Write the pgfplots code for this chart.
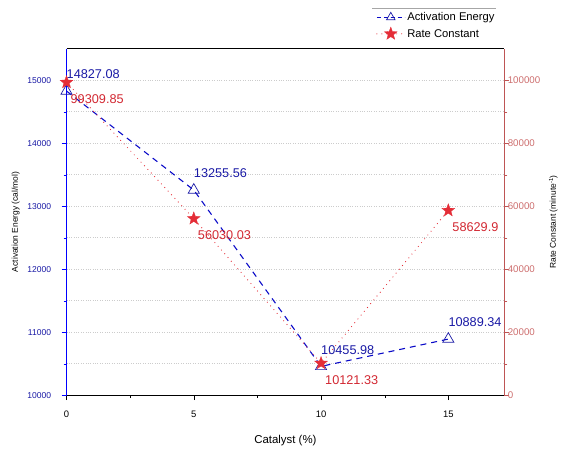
\documentclass[border=0pt]{standalone}
\usepackage{pgfplots}
\pgfplotsset{compat=1.18}
\usepackage{fontspec}
\setmainfont{Liberation Sans}

\definecolor{aeblue}{RGB}{25,25,165}
\definecolor{aeline}{RGB}{10,10,200}
\definecolor{axblue}{RGB}{0,0,255}
\definecolor{rcred}{RGB}{228,45,55}
\definecolor{lblred}{RGB}{210,40,50}
\definecolor{axred}{RGB}{190,85,85}
\definecolor{tickred}{RGB}{205,110,110}

% filled five-pointed star
\pgfdeclareplotmark{fstar}{%
  \pgfpathmoveto{\pgfpointpolar{90}{\pgfplotmarksize}}%
  \pgfpathlineto{\pgfpointpolar{126}{0.42\pgfplotmarksize}}%
  \pgfpathlineto{\pgfpointpolar{162}{\pgfplotmarksize}}%
  \pgfpathlineto{\pgfpointpolar{198}{0.42\pgfplotmarksize}}%
  \pgfpathlineto{\pgfpointpolar{234}{\pgfplotmarksize}}%
  \pgfpathlineto{\pgfpointpolar{270}{0.42\pgfplotmarksize}}%
  \pgfpathlineto{\pgfpointpolar{306}{\pgfplotmarksize}}%
  \pgfpathlineto{\pgfpointpolar{342}{0.42\pgfplotmarksize}}%
  \pgfpathlineto{\pgfpointpolar{18}{\pgfplotmarksize}}%
  \pgfpathlineto{\pgfpointpolar{54}{0.42\pgfplotmarksize}}%
  \pgfpathclose
  \pgfusepathqfillstroke
}

\pgfplotsset{
  common/.style={
    scale only axis, width=441pt, height=349pt,
    xmin=0, xmax=17.2,
    tick align=outside,
    /pgf/number format/fixed,
    /pgf/number format/assume math mode=true,
    /pgf/number format/1000 sep={},
  },
}

\begin{document}
\begin{tikzpicture}
\begin{axis}[common,
  ymin=10000, ymax=15500,
  axis x line*=bottom, axis y line*=left,
  xtick={0,5,10,15}, minor x tick num=1,
  ytick={10000,11000,...,15000}, minor y tick num=1,
  x axis line style={black, thick},
  y axis line style={axblue, thick},
  ytick style={axblue}, xtick style={black},
  major tick length=5pt, minor tick length=3pt,
  scaled y ticks=false,
  xticklabel style={font=\fontsize{9.5}{10}\selectfont, yshift=-7pt},
  yticklabel style={font=\fontsize{8.6}{10}\selectfont, color=aeblue, xshift=-7pt},
  ymajorgrids, yminorgrids,
  major grid style={dotted, gray!40},
  minor grid style={dotted, gray!40},
  xlabel={Catalyst (\%)},
  xlabel style={font=\fontsize{11.5}{13}\selectfont, yshift=-11pt},
  ylabel={Activation Energy (cal/mol)},
  ylabel style={font=\fontsize{8.5}{10}\selectfont, yshift=1pt},
]
\addplot[aeline, line width=1.1pt, dash pattern=on 6pt off 5pt, mark=triangle, mark size=6.5pt,
  mark options={solid, aeblue, line width=0.7pt}]
table {
x y
0 14827.08
5 13255.56
10 10455.98
15 10889.34
};
% value labels
\addplot[draw=none, mark=none, forget plot, nodes near coords, point meta=explicit symbolic,
  every node near coord/.style={anchor=south west, inner sep=0pt, xshift=0pt, yshift=12pt,
  font=\fontsize{12.8}{14}\selectfont, color=aeblue}]
table[meta=lab] {
x y lab
0 14827.08 14827.08
5 13255.56 13255.56
10 10455.98 10455.98
15 10889.34 10889.34
};
\end{axis}

\begin{axis}[common,
  ymin=0, ymax=110000,
  clip=false,
  axis x line*=top, axis y line*=right,
  xtick=\empty,
  ytick={0,20000,...,100000}, minor y tick num=1,
  x axis line style={black, thick},
  y axis line style={axred, thick},
  ytick style={axred},
  major tick length=5pt, minor tick length=3pt,
  scaled y ticks=false,
  yticklabel style={font=\fontsize{9.8}{11}\selectfont, color=tickred, xshift=-5pt},
  ylabel={Rate Constant (minute\textsuperscript{-1})},
  ylabel style={font=\fontsize{8.5}{10}\selectfont, yshift=-2pt},
  legend style={at={(rel axis cs:0.985,1)}, anchor=south east, yshift=7pt, draw=none, fill=none,
    font=\fontsize{11.3}{13}\selectfont, row sep=3pt, inner sep=1pt},
  legend cell align={left},
  legend image code/.code={\draw[mark repeat=2, mark phase=2]
    plot coordinates {(0pt,0pt) (14pt,0pt) (28pt,0pt)};},
]
\addlegendimage{aeline, line width=1pt, dash pattern=on 4pt off 3pt, mark=triangle, mark size=5pt,
  mark options={solid, aeblue, line width=0.7pt}}
\addlegendentry{Activation Energy}
\addplot[rcred, line width=1.2pt, line cap=round, dash pattern=on 0pt off 5pt,
  mark=fstar, mark size=6.8pt,
  mark options={solid, fill=rcred, draw=rcred, line width=0.3pt}]
coordinates {(0,99309.85) (5,56030.03) (10,10121.33) (15,58629.9)};
\addlegendentry{Rate Constant}
\addplot[draw=none, mark=none, forget plot, nodes near coords, point meta=explicit symbolic,
  every node near coord/.style={anchor=north west, inner sep=0pt, xshift=4pt, yshift=-12pt,
  font=\fontsize{12.8}{14}\selectfont, color=lblred}]
table[meta=lab] {
x y lab
0 99309.85 99309.85
5 56030.03 56030.03
10 10121.33 10121.33
15 58629.9 58629.9
};
\draw[gray!70] (rel axis cs:0.698,1.117) -- (rel axis cs:0.982,1.117);
\end{axis}
\path ([shift={(-67pt,-48pt)}]current axis.south west)
  rectangle ([shift={(53pt,49pt)}]current axis.north east);
\end{tikzpicture}
\end{document}
